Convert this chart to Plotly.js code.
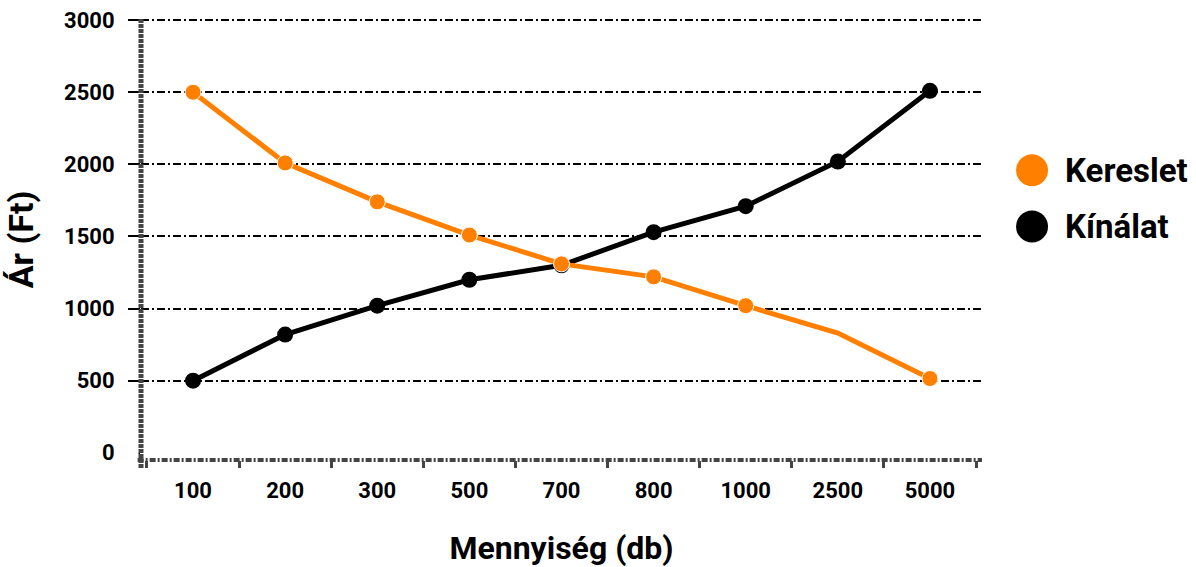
<!DOCTYPE html>
<html>
<head>
<meta charset="utf-8">
<script src="https://cdn.plot.ly/plotly-3.0.1.min.js"></script>
<style>html,body{margin:0;padding:0;background:#fff;}#chart{width:1196px;height:567px;}</style>
</head>
<body>
<div id="chart"></div>
<script>
const categories = ['100', '200', '300', '500', '700', '800', '1000', '2500', '5000'];
const kereslet = [2500, 2010, 1740, 1510, 1310, 1220, 1020, 830, 515];
const kinalat = [500, 820, 1020, 1200, 1300, 1530, 1710, 2020, 2510];
const seriesNames = ['Kereslet', 'Kínálat'];
const yTicks = [0, 500, 1000, 1500, 2000, 2500, 3000];

const ORANGE = '#FF8000';
const BLACK = '#000000';
const FONT = 'Roboto, DejaVu Sans, sans-serif';

const noMarkerAt = '2500';
const keresletSizes = categories.map(c => c === noMarkerAt ? 0 : 16);

const traces = [
  {
    x: categories, y: kinalat, name: seriesNames[1], type: 'scatter', mode: 'lines+markers',
    line: {color: BLACK, width: 5}, marker: {color: BLACK, size: 16, opacity: 1}, showlegend: false
  },
  {
    x: categories, y: kereslet, name: seriesNames[0], type: 'scatter', mode: 'lines+markers',
    line: {color: ORANGE, width: 5}, marker: {color: ORANGE, size: keresletSizes, opacity: 1}, showlegend: false
  }
];

const tickFont = {family: FONT, size: 22, color: '#000', weight: 'bold'};
const xTitleFont = {family: FONT, size: 32, color: '#000', weight: 'bold'};
const yTitleFont = {family: FONT, size: 34, color: '#000', weight: 'bold'};
const legendFont = {family: FONT, size: 33, color: '#000', weight: 'bold'};

const layout = {
  width: 1196, height: 567,
  margin: {l: 141, r: 214, t: 19, b: 107},
  paper_bgcolor: '#fff', plot_bgcolor: '#fff',
  showlegend: false,
  xaxis: {
    type: 'category', categoryorder: 'array', categoryarray: categories,
    showgrid: false, zeroline: false, showline: false,
    ticks: 'outside', tickson: 'boundaries', ticklen: 7, tickwidth: 3, tickcolor: '#444',
    ticklabelstandoff: 15,
    tickfont: tickFont,
    title: {text: 'Mennyiség (db)', font: xTitleFont, standoff: 34},
    fixedrange: true
  },
  yaxis: {
    range: [-50, 3008], tickvals: yTicks, ticktext: yTicks.map(String),
    showgrid: true, gridcolor: '#000', gridwidth: 2, griddash: '8px,3px,2px,3px',
    zeroline: true, zerolinecolor: 'rgba(0,0,0,0)', zerolinewidth: 1, showline: false,
    ticks: 'outside', ticklen: 12, tickwidth: 2, tickcolor: '#000',
    ticklabelstandoff: 9,
    tickfont: tickFont,
    title: {text: 'Ár (Ft)', font: yTitleFont, standoff: 20},
    fixedrange: true
  },
  shapes: [
    {type: 'line', xref: 'paper', yref: 'paper', x0: 0, x1: 0, y0: -0.018, y1: 1,
     line: {color: '#444', width: 5, dash: '4px,1px'}},
    {type: 'line', xref: 'paper', yref: 'paper', x0: -0.004, x1: 1, y0: 0, y1: 0,
     line: {color: '#444', width: 4, dash: '6px,2px,2px,2px'}},
    {type: 'line', xref: 'paper', yref: 'y', x0: -0.0155, x1: -0.003, y0: 0, y1: 0,
     line: {color: '#fff', width: 3}},
    {type: 'circle', xref: 'paper', yref: 'paper', xsizemode: 'pixel', ysizemode: 'pixel',
     xanchor: 1.0595, yanchor: 0.657, x0: -16, x1: 16, y0: -16, y1: 16,
     fillcolor: ORANGE, line: {width: 0}},
    {type: 'circle', xref: 'paper', yref: 'paper', xsizemode: 'pixel', ysizemode: 'pixel',
     xanchor: 1.0595, yanchor: 0.5295, x0: -16, x1: 16, y0: -16, y1: 16,
     fillcolor: BLACK, line: {width: 0}}
  ],
  annotations: [
    {xref: 'paper', yref: 'paper', x: 1.0963, y: 0.657, xanchor: 'left', yanchor: 'middle',
     text: seriesNames[0], showarrow: false, font: legendFont},
    {xref: 'paper', yref: 'paper', x: 1.0963, y: 0.5295, xanchor: 'left', yanchor: 'middle',
     text: seriesNames[1], showarrow: false, font: legendFont}
  ]
};

Plotly.newPlot('chart', traces, layout, {displayModeBar: false, staticPlot: true});
</script>
</body>
</html>
